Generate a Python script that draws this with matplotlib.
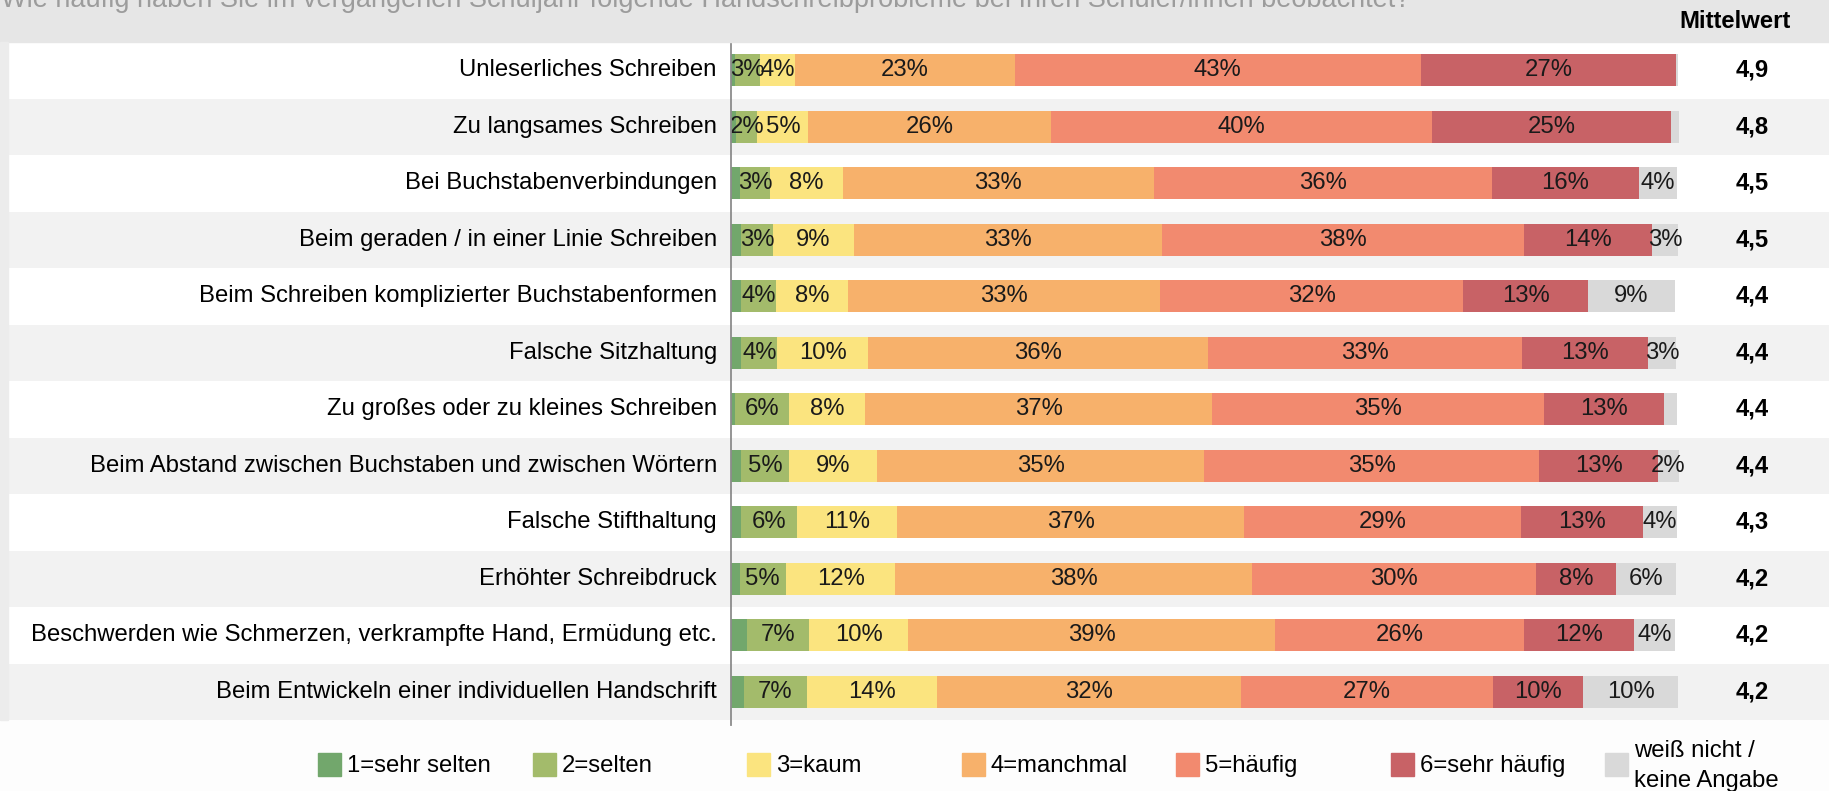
import matplotlib
matplotlib.use("Agg")
import matplotlib.pyplot as plt
from matplotlib.patches import Rectangle
import numpy as np

plt.rcParams['font.family'] = ['Liberation Sans', 'DejaVu Sans']

title = ("Wie häufig haben Sie im vergangenen Schuljahr folgende "
         "Handschreibprobleme bei Ihren Schüler/innen beobachtet?")

items = [
    "Unleserliches Schreiben",
    "Zu langsames Schreiben",
    "Bei Buchstabenverbindungen",
    "Beim geraden / in einer Linie Schreiben",
    "Beim Schreiben komplizierter Buchstabenformen",
    "Falsche Sitzhaltung",
    "Zu großes oder zu kleines Schreiben",
    "Beim Abstand zwischen Buchstaben und zwischen Wörtern",
    "Falsche Stifthaltung",
    "Erhöhter Schreibdruck",
    "Beschwerden wie Schmerzen, verkrampfte Hand, Ermüdung etc.",
    "Beim Entwickeln einer individuellen Handschrift",
]

means = [4.9, 4.8, 4.5, 4.5, 4.4, 4.4, 4.4, 4.4, 4.3, 4.2, 4.2, 4.2]

answers = ["1=sehr selten", "2=selten", "3=kaum", "4=manchmal",
           "5=häufig", "6=sehr häufig", "weiß nicht /\nkeine Angabe"]
colors = ["#72a76c", "#a3bb6b", "#fbe47f", "#f7b16b",
          "#f28a6f", "#c86266", "#d9d9d9"]

# shares per item, in % (order as in answers)
sehr_selten = [0.4, 0.5, 1.0, 1.1, 1.1, 1.1, 0.4, 1.1, 1.1, 0.9, 1.7, 1.4]
selten      = [2.7, 2.3, 3.1, 3.3, 3.7, 3.8, 5.7, 5.0, 5.9, 4.9, 6.6, 6.6]
kaum        = [3.7, 5.4, 7.7, 8.6, 7.6, 9.6, 8.1, 9.4, 10.6, 11.6, 10.4, 13.8]
manchmal    = [23.2, 25.7, 33.0, 32.6, 33.0, 36.0, 36.7, 34.6, 36.7, 37.7, 38.9, 32.2]
haeufig     = [43.0, 40.3, 35.7, 38.3, 32.1, 33.2, 35.1, 35.4, 29.3, 30.1, 26.3, 26.6]
sehr_haeufig = [27.0, 25.3, 15.6, 13.6, 13.2, 13.3, 12.7, 12.6, 12.9, 8.4, 11.7, 9.6]
keine_angabe = [0.2, 0.8, 4.0, 2.7, 9.2, 3.0, 1.4, 2.2, 3.6, 6.4, 4.3, 10.0]

shares = [sehr_selten, selten, kaum, manchmal, haeufig, sehr_haeufig, keine_angabe]

W, H = 1829, 791
FS = 17.2

fig = plt.figure(figsize=(W / 100, H / 100), dpi=100, facecolor="#fdfdfd")

# grey header band and left strip
fig.patches.append(Rectangle((0, 1 - 42 / H), 1, 42 / H, transform=fig.transFigure,
                             color="#e6e6e6", zorder=0))
fig.patches.append(Rectangle((0, (H - 720) / H), 8 / W, 678 / H, transform=fig.transFigure,
                             color="#ececec", zorder=0))

fig.text(1 / W, 1 - 7 / H, title, va="baseline", ha="left", color="#9c9c9c", fontsize=19.5)
fig.text(1735 / W, 1 - 21 / H, "Mittelwert", ha="center", va="center",
         fontweight="bold", fontsize=FS)

# axes: 0..100 % maps to pixels 731..1676
scale = (1676 - 731) / 100
ax = fig.add_axes([8 / W, (H - 720) / H, (W - 8) / W, 678 / H])
ax.set_xlim((8 - 731) / scale, 100 + (W - 1676) / scale)
n = len(items)
ax.set_ylim(n - 0.5, -0.5)
ax.axis("off")

y = np.arange(n)
for i in range(n):
    ax.axhspan(i - 0.5, i + 0.5, color="white" if i % 2 == 0 else "#f2f2f2", lw=0, zorder=0)

left = np.zeros(n)
for vals, col in zip(shares, colors):
    vals = np.array(vals)
    ax.barh(y, vals, left=left, height=0.56, color=col, lw=0, zorder=2)
    for i, v in enumerate(vals):
        if v >= 1.95:
            ax.text(left[i] + v / 2, i, f"{round(v):.0f}%", ha="center", va="center",
                    fontsize=FS, color="#1a1a1a", zorder=3)
    left += vals

for i, (item, m) in enumerate(zip(items, means)):
    ax.text(-1.5, i, item, ha="right", va="center", fontsize=FS)
    ax.text(100 + (1752 - 1676) / scale, i, f"{m:.1f}".replace(".", ","),
            ha="center", va="center", fontsize=FS, fontweight="bold")

# vertical zero line
ax.plot([0, 0], [-0.5, n - 0.5 + 5 / 56.5], color="#8c8c8c", lw=1.3, clip_on=False, zorder=4)

# legend
for k, (lab, col) in enumerate(zip(answers, colors)):
    x0 = 318 + k * 214.5
    fig.patches.append(Rectangle((x0 / W, 1 - 776 / H), 23 / W, 23 / H,
                                 transform=fig.transFigure, color=col))
    fig.text((x0 + 29) / W, 1 - 766 / H, lab, ha="left", va="center",
             fontsize=FS, linespacing=1.5)

fig.savefig("out.png", dpi=100, facecolor=fig.get_facecolor())
